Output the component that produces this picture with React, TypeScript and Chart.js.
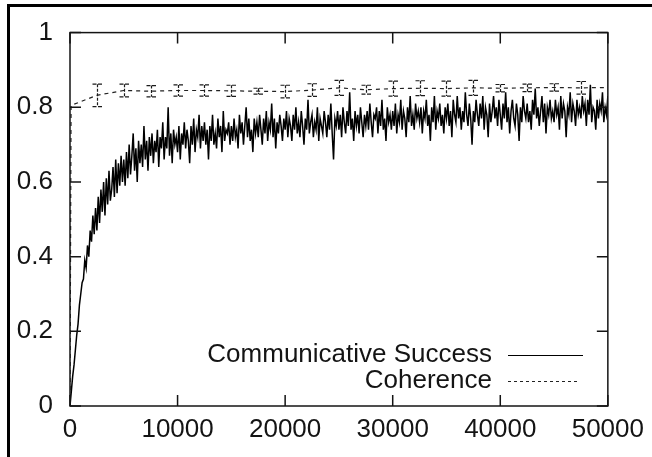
import React, { useEffect, useRef } from "react";
import { Chart, registerables } from "chart.js";

Chart.register(...registerables);

// Communicative success, sampled every SAMPLE_STEP interactions (0 .. 50000)
const SAMPLE_STEP = 125;
const successValues: number[] = [
  0, 0.04, 0.08, 0.11, 0.15, 0.19, 0.22, 0.27, 0.30, 0.33, 0.34, 0.39, 0.37, 0.43, 0.40, 0.47, 0.44, 0.51, 0.46, 0.53,
  0.47, 0.56, 0.49, 0.58, 0.52, 0.60, 0.51, 0.61, 0.54, 0.63, 0.55, 0.58, 0.64, 0.56, 0.66, 0.57, 0.65, 0.59, 0.67, 0.60,
  0.66, 0.59, 0.68, 0.61, 0.70, 0.62, 0.67, 0.73, 0.63, 0.69, 0.60, 0.71, 0.65, 0.70, 0.64, 0.75, 0.66, 0.71, 0.63, 0.72,
  0.67, 0.73, 0.65, 0.71, 0.68, 0.74, 0.64, 0.72, 0.69, 0.76, 0.66, 0.72, 0.69, 0.80, 0.67, 0.73, 0.65, 0.74, 0.70, 0.72,
  0.68, 0.75, 0.66, 0.73, 0.70, 0.76, 0.69, 0.74, 0.71, 0.65, 0.75, 0.70, 0.77, 0.68, 0.74, 0.72, 0.78, 0.69, 0.75, 0.71,
  0.76, 0.70, 0.74, 0.66, 0.75, 0.71, 0.78, 0.70, 0.73, 0.69, 0.77, 0.72, 0.75, 0.68, 0.79, 0.71, 0.74, 0.73, 0.76, 0.70,
  0.75, 0.71, 0.77, 0.72, 0.74, 0.69, 0.78, 0.73, 0.76, 0.70, 0.75, 0.80, 0.72, 0.77, 0.71, 0.74, 0.68, 0.77, 0.73, 0.76,
  0.72, 0.78, 0.74, 0.70, 0.77, 0.73, 0.79, 0.71, 0.76, 0.74, 0.81, 0.72, 0.77, 0.69, 0.76, 0.73, 0.78, 0.75, 0.71, 0.77,
  0.74, 0.79, 0.72, 0.77, 0.75, 0.71, 0.78, 0.74, 0.80, 0.73, 0.76, 0.72, 0.79, 0.75, 0.70, 0.77, 0.74, 0.82, 0.73, 0.76,
  0.78, 0.72, 0.76, 0.74, 0.80, 0.71, 0.77, 0.75, 0.73, 0.79, 0.76, 0.72, 0.78, 0.74, 0.81, 0.73, 0.66, 0.77, 0.75, 0.79,
  0.74, 0.78, 0.72, 0.80, 0.76, 0.73, 0.79, 0.75, 0.84, 0.74, 0.77, 0.71, 0.79, 0.75, 0.78, 0.73, 0.80, 0.76, 0.72, 0.78,
  0.75, 0.79, 0.74, 0.81, 0.76, 0.72, 0.78, 0.77, 0.80, 0.73, 0.79, 0.75, 0.82, 0.74, 0.77, 0.71, 0.80, 0.76, 0.78, 0.74,
  0.79, 0.75, 0.81, 0.73, 0.78, 0.76, 0.82, 0.74, 0.79, 0.77, 0.72, 0.80, 0.76, 0.83, 0.75, 0.78, 0.74, 0.81, 0.77, 0.79,
  0.76, 0.80, 0.73, 0.79, 0.77, 0.82, 0.75, 0.78, 0.71, 0.80, 0.76, 0.83, 0.74, 0.79, 0.77, 0.81, 0.75, 0.78, 0.73, 0.80,
  0.77, 0.81, 0.75, 0.79, 0.72, 0.82, 0.78, 0.76, 0.83, 0.77, 0.80, 0.74, 0.79, 0.76, 0.84, 0.78, 0.75, 0.81, 0.77, 0.70,
  0.79, 0.76, 0.82, 0.78, 0.75, 0.81, 0.77, 0.83, 0.74, 0.80, 0.78, 0.72, 0.81, 0.76, 0.79, 0.83, 0.77, 0.80, 0.75, 0.82,
  0.78, 0.74, 0.81, 0.77, 0.84, 0.76, 0.80, 0.73, 0.79, 0.82, 0.77, 0.75, 0.81, 0.78, 0.71, 0.80, 0.76, 0.83, 0.79, 0.77,
  0.81, 0.76, 0.79, 0.74, 0.82, 0.78, 0.85, 0.77, 0.80, 0.75, 0.79, 0.83, 0.76, 0.81, 0.73, 0.80, 0.78, 0.82, 0.77, 0.79,
  0.76, 0.82, 0.78, 0.80, 0.74, 0.83, 0.77, 0.81, 0.79, 0.72, 0.80, 0.78, 0.84, 0.76, 0.81, 0.79, 0.75, 0.82, 0.78, 0.80,
  0.77, 0.83, 0.79, 0.81, 0.75, 0.82, 0.78, 0.86, 0.76, 0.80, 0.79, 0.74, 0.82, 0.77, 0.81, 0.79, 0.84, 0.76, 0.80, 0.78,
  0.83,
];

// Coherence with error bars
const coherenceSteps: number[] = [
  0, 100, 2500, 5000, 7500, 10000, 12500, 15000, 17500, 20000, 22500, 25000,
  27500, 30000, 32500, 35000, 37500, 40000, 42500, 45000, 47500, 50000,
];
const coherenceValues: number[] = [
  0, 0.805, 0.832, 0.845, 0.843, 0.845, 0.845, 0.844, 0.843, 0.842, 0.846, 0.852,
  0.847, 0.85, 0.851, 0.85, 0.852, 0.851, 0.852, 0.853, 0.852, 0.853,
];
const coherenceErrors: number[] = [
  0, 0, 0.03, 0.017, 0.015, 0.015, 0.015, 0.015, 0.008, 0.017, 0.017, 0.02,
  0.012, 0.02, 0.02, 0.02, 0.02, 0.01, 0.01, 0.01, 0.017, 0,
];

const xTicks: number[] = [0, 10000, 20000, 30000, 40000, 50000];
const yTicks: number[] = [0, 0.2, 0.4, 0.6, 0.8, 1];
const seriesLabels: string[] = ["Communicative Success", "Coherence"];

const FONT = '"Liberation Sans", Arial, Helvetica, sans-serif';
const INK = "#141414";
const FONT_SIZE = 26;

const gnuplotPlugin = {
  id: "gnuplotFrame",
  beforeDraw(chart: any) {
    const ctx = chart.ctx;
    ctx.save();
    ctx.fillStyle = "#ffffff";
    ctx.fillRect(0, 0, chart.width, chart.height);
    // outer frame (left and top edges)
    ctx.fillStyle = "#000";
    ctx.fillRect(7, 4, chart.width - 7, 3);
    ctx.fillRect(7, 4, 3, chart.height - 4);
    ctx.restore();
  },
  afterDatasetsDraw(chart: any) {
    const ctx = chart.ctx;
    const xs = chart.scales.x;
    const ys = chart.scales.y;
    const a = chart.chartArea;
    ctx.save();
    // error bars for coherence
    ctx.strokeStyle = "#1a1a1a";
    ctx.lineWidth = 1.2;
    coherenceSteps.forEach((s, i) => {
      const e = coherenceErrors[i];
      if (!e) return;
      const px = Math.round(xs.getPixelForValue(s)) + 0.5;
      const top = ys.getPixelForValue(coherenceValues[i] + e);
      const bot = ys.getPixelForValue(coherenceValues[i] - e);
      ctx.setLineDash([3, 1.5]);
      ctx.beginPath();
      ctx.moveTo(px, top);
      ctx.lineTo(px, bot);
      ctx.stroke();
      ctx.setLineDash([4, 1.5]);
      ctx.beginPath();
      ctx.moveTo(px - 5, top);
      ctx.lineTo(px + 5, top);
      ctx.moveTo(px - 5, bot);
      ctx.lineTo(px + 5, bot);
      ctx.stroke();
    });
    ctx.setLineDash([]);
    // plot border
    ctx.strokeStyle = INK;
    ctx.lineWidth = 1.5;
    ctx.strokeRect(a.left, a.top, a.right - a.left, a.bottom - a.top);
    // inward ticks on all four sides
    const tl = 11;
    ctx.beginPath();
    xTicks.forEach((v) => {
      const px = xs.getPixelForValue(v);
      ctx.moveTo(px, a.bottom);
      ctx.lineTo(px, a.bottom - tl);
      ctx.moveTo(px, a.top);
      ctx.lineTo(px, a.top + tl);
    });
    yTicks.forEach((v) => {
      const py = ys.getPixelForValue(v);
      ctx.moveTo(a.left, py);
      ctx.lineTo(a.left + tl, py);
      ctx.moveTo(a.right, py);
      ctx.lineTo(a.right - tl, py);
    });
    ctx.stroke();
    // legend (gnuplot style: right-aligned text, sample after)
    ctx.font = `${FONT_SIZE}px ${FONT}`;
    ctx.fillStyle = INK;
    ctx.textAlign = "right";
    ctx.textBaseline = "middle";
    const textRight = 492;
    const rows = [355, 381];
    chart.data.datasets.forEach((ds: any, i: number) => {
      const y = rows[i];
      ctx.fillText(ds.label, textRight, y);
      ctx.beginPath();
      ctx.strokeStyle = ds.borderColor;
      ctx.lineWidth = 1.2;
      ctx.setLineDash(i === 0 ? [] : [3, 3]);
      ctx.moveTo(508, y + 0.5);
      ctx.lineTo(i === 0 ? 583 : 580, y + 0.5);
      ctx.stroke();
      ctx.setLineDash([]);
    });
    ctx.restore();
  },
};

export default function App() {
  const ref = useRef<HTMLCanvasElement | null>(null);
  useEffect(() => {
    if (!ref.current) return;
    const successData = successValues.map((v, i) => ({ x: i * SAMPLE_STEP, y: v }));
    const coherenceData = coherenceSteps.map((s, i) => ({ x: s, y: coherenceValues[i] }));
    const chart = new Chart(ref.current, {
      type: "line",
      data: {
        datasets: [
          {
            label: seriesLabels[0],
            data: successData,
            borderColor: "#000000",
            borderWidth: 1.5,
            pointRadius: 0,
            tension: 0,
          },
          {
            label: seriesLabels[1],
            data: coherenceData,
            borderColor: "#222222",
            borderWidth: 1.2,
            borderDash: [4, 4],
            pointRadius: 0,
            tension: 0,
          },
        ],
      },
      options: {
        responsive: false,
        animation: false,
        devicePixelRatio: 1,
        layout: { padding: { top: 30, right: 39, left: 0, bottom: 0 } },
        plugins: { legend: { display: false }, tooltip: { enabled: false } },
        scales: {
          x: {
            type: "linear",
            min: 0,
            max: 50000,
            grid: { display: false, drawTicks: false },
            border: { display: false },
            afterFit: (s: any) => {
              s.height = 51;
            },
            afterBuildTicks: (s: any) => {
              s.ticks = xTicks.map((v) => ({ value: v }));
            },
            ticks: {
              padding: 8,
              maxRotation: 0,
              autoSkip: false,
              color: INK,
              font: { family: FONT, size: FONT_SIZE },
              callback: (v: any) => String(v),
            },
          },
          y: {
            type: "linear",
            min: 0,
            max: 1,
            grid: { display: false, drawTicks: false },
            border: { display: false },
            afterFit: (s: any) => {
              s.width = 70;
            },
            afterBuildTicks: (s: any) => {
              s.ticks = yTicks.map((v) => ({ value: v }));
            },
            ticks: {
              padding: 17,
              autoSkip: false,
              color: INK,
              font: { family: FONT, size: FONT_SIZE },
              callback: (v: any) => String(v),
            },
          },
        },
      },
      plugins: [gnuplotPlugin],
    });
    return () => chart.destroy();
  }, []);
  return (
    <div style={{ position: "absolute", left: 0, top: 0, width: 652, height: 457 }}>
      <canvas ref={ref} width={652} height={457} />
    </div>
  );
}
